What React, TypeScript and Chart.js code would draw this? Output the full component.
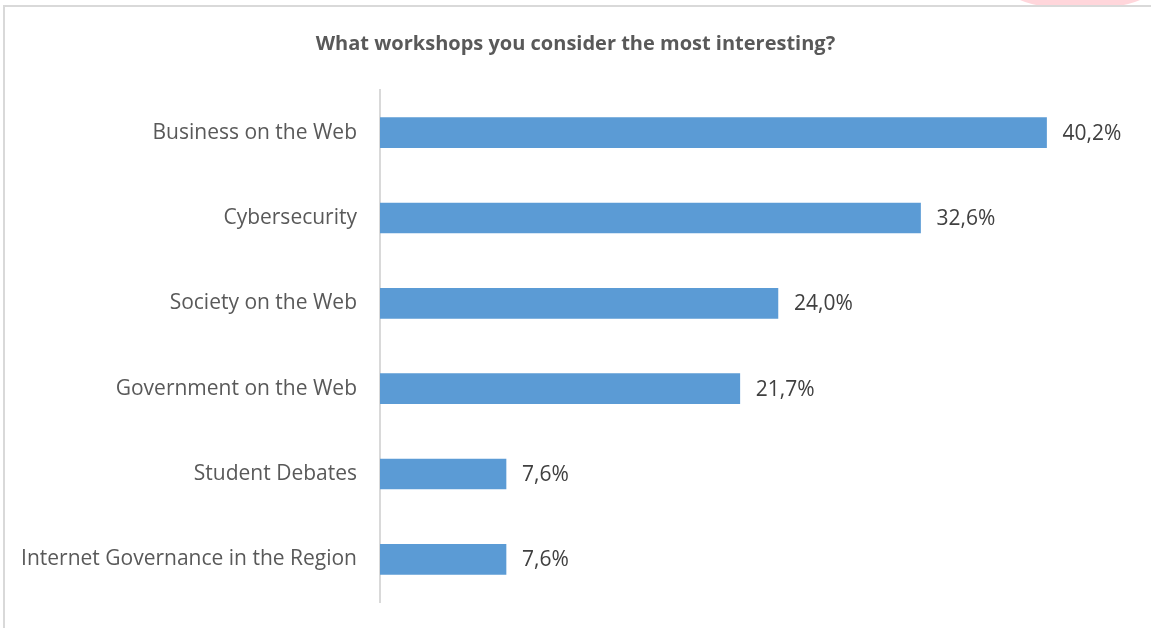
import React, { useEffect, useRef } from "react";
import { Chart, registerables } from "chart.js";

Chart.register(...registerables);

const categories = [
  "Business on the Web",
  "Cybersecurity",
  "Society on the Web",
  "Government on the Web",
  "Student Debates",
  "Internet Governance in the Region",
];
const values = [40.2, 32.6, 24.0, 21.7, 7.6, 7.6];
const titleText = "What workshops you consider the most interesting?";

const FONT = "'Open Sans', 'Noto Sans', sans-serif";

const valueLabels = {
  id: "valueLabels",
  afterDatasetsDraw(chart: any) {
    const ctx = chart.ctx;
    const meta = chart.getDatasetMeta(0);
    ctx.save();
    ctx.font = `21px ${FONT}`;
    ctx.fillStyle = "#404040";
    ctx.textAlign = "left";
    ctx.textBaseline = "middle";
    meta.data.forEach((bar: any, i: number) => {
      const v = chart.data.datasets[0].data[i] as number;
      ctx.fillText(v.toFixed(1).replace(".", ",") + "%", bar.x + 16, bar.y + 1);
    });
    ctx.restore();
  },
};

export default function App() {
  const ref = useRef<HTMLCanvasElement | null>(null);
  useEffect(() => {
    if (!ref.current) return;
    const chart = new Chart(ref.current, {
      type: "bar",
      data: {
        labels: categories,
        datasets: [
          {
            data: values,
            backgroundColor: "#5b9bd5",
            barThickness: 30,
          },
        ],
      },
      options: {
        indexAxis: "y",
        animation: false,
        responsive: false,
        maintainAspectRatio: false,
        layout: { padding: { left: 0, right: 0, bottom: 26, top: 0 } },
        plugins: {
          legend: { display: false },
          tooltip: { enabled: false },
          title: {
            display: true,
            text: titleText,
            color: "#595959",
            font: { family: FONT, size: 20, weight: "bold" },
            padding: { top: 32, bottom: 34 },
          },
        },
        scales: {
          x: { display: false, min: 0, max: 46.5 },
          y: {
            grid: { display: false },
            border: { color: "#d9d9d9", width: 2 },
            ticks: {
              color: "#595959",
              font: { family: FONT, size: 21 },
              padding: 15,
            },
            afterFit: (scale: any) => {
              scale.width = 380;
              scale.paddingTop = 0;
              scale.paddingBottom = 0;
            },
          },
        },
      },
      plugins: [valueLabels],
    });
    return () => chart.destroy();
  }, []);

  return (
    <div
      style={{
        position: "fixed",
        left: 0,
        top: 0,
        width: 1151,
        height: 628,
        background: "#ffffff",
        overflow: "hidden",
      }}
    >
      <div
        style={{
          position: "absolute",
          left: 1012,
          top: 0,
          width: 136,
          height: 5,
          overflow: "hidden",
        }}
      >
        <div
          style={{
            position: "absolute",
            left: 0,
            top: -25,
            width: 136,
            height: 34,
            borderRadius: "50%",
            background: "#ffd6db",
          }}
        />
      </div>
      <div
        style={{
          position: "absolute",
          left: 3,
          top: 5,
          width: 1200,
          height: 700,
          borderTop: "2px solid #d9d9d9",
          borderLeft: "2px solid #d9d9d9",
        }}
      />
      <canvas
        ref={ref}
        width={1151}
        height={628}
        style={{ position: "absolute", left: 0, top: 0 }}
      />
    </div>
  );
}
